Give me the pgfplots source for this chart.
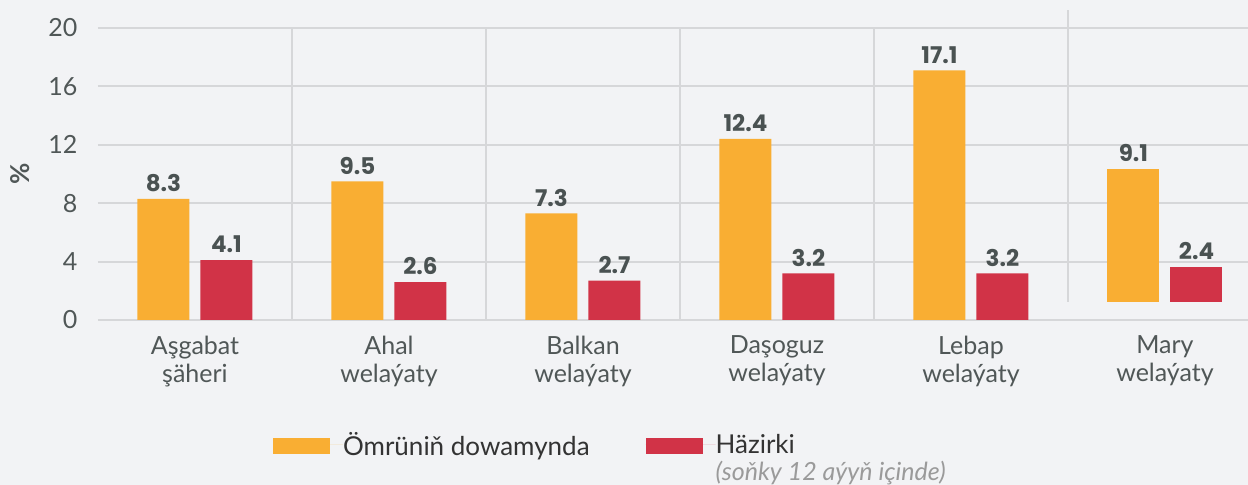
\documentclass[border=0pt]{standalone}
\usepackage{pgfplots}
\pgfplotsset{compat=1.18}
\usepackage{fontspec}
\setmainfont{Lato}
\newfontfamily\valfont{Poppins}
\definecolor{bg}{HTML}{F2F3F5}
\definecolor{gridc}{HTML}{D6D7D9}
\definecolor{orangeb}{HTML}{F9AE33}
\definecolor{redb}{HTML}{D13347}
\definecolor{valc}{HTML}{4A5252}
\definecolor{labc}{HTML}{505757}
\definecolor{legc}{HTML}{333333}
\definecolor{subc}{HTML}{9A9A9A}

\pgfplotsset{
  common/.style={
    scale only axis, width=575pt, height=146pt,
    at={(49pt,82.5pt)}, anchor=south west,
    xmin=-0.5, xmax=5.428,
    ybar=5.5pt, bar width=26pt,
    /pgf/number format/assume math mode=true,
    nodes near coords={\pgfmathprintnumber[fixed,fixed zerofill,precision=1]{\pgfplotspointmeta}},
    every node near coord/.append style={font=\valfont\bfseries\fontsize{11.5}{13}\selectfont, text=valc},
  },
  sw/.style={legend image code/.code={\fill[##1] (0pt,-4.5pt) rectangle (28.5pt,3.5pt); \path (0pt,0pt) -- (35pt,0pt);}},
}

\begin{document}
\begin{tikzpicture}
\fill[bg] (0,0) rectangle (624pt,242.5pt);
\useasboundingbox (0,0) rectangle (624pt,242.5pt);
\begin{axis}[common,
  ymin=0, ymax=20, ytick={0,4,...,20},
  ymajorgrids, major grid style={gridc, line width=1pt},
  axis line style={draw=none},
  major tick length=0pt,
  xtick={0,1,2,3,4,5},
  xticklabels={{Aşgabat\\şäheri},{Ahal\\welaýaty},{Balkan\\welaýaty},{Daşoguz\\welaýaty},{Lebap\\welaýaty},{Mary\\welaýaty}},
  xticklabel style={align=center, font=\fontsize{12.5}{14}\selectfont, text=labc, yshift=-4.5pt},
  yticklabel style={font=\fontsize{12.5}{15}\selectfont, text=labc, xshift=-6.8pt},
  extra x ticks={0.5,1.5,2.5,3.5}, extra x tick labels={},
  extra x tick style={grid=major, major grid style={gridc,line width=1pt}},
  ylabel={\%},
  ylabel style={at={(axis description cs:-0.068,0.5)}, anchor=center, font=\bfseries\fontsize{13}{15}\selectfont, text=labc},
  legend style={at={(axis description cs:0.1522,-0.428)}, anchor=west, draw=none, fill=none,
    inner sep=0pt, outer sep=0pt, legend columns=2, /tikz/column sep=0pt,
    nodes={inner sep=0pt, font=\fontsize{13}{15}\selectfont, text=legc}},
]
\addplot[fill=orangeb, draw=none, sw] coordinates {(0,8.3) (1,9.5) (2,7.3) (3,12.4) (4,17.1)};
\addlegendentry{Ömrüniň dowamynda\rule{28pt}{0pt}}
\addplot[fill=redb, draw=none, sw] coordinates {(0,4.1) (1,2.6) (2,2.7) (3,3.2) (4,3.2)};
\addlegendentry{\rlap{\smash{\raisebox{-13.5pt}{\fontsize{12.5}{14}\selectfont\itshape\color{subc}(soňky 12 aýyň içinde)}}}Häzirki}
\end{axis}
\begin{axis}[common, ymin=-1.25, ymax=18.75, hide axis, clip=false]
\addplot[fill=orangeb, draw=none] coordinates {(5,9.1)};
\addplot[fill=redb, draw=none] coordinates {(5,2.4)};
\draw[gridc, line width=1pt] (axis cs:4.5,0) -- (axis cs:4.5,20);
\end{axis}
\end{tikzpicture}
\end{document}
